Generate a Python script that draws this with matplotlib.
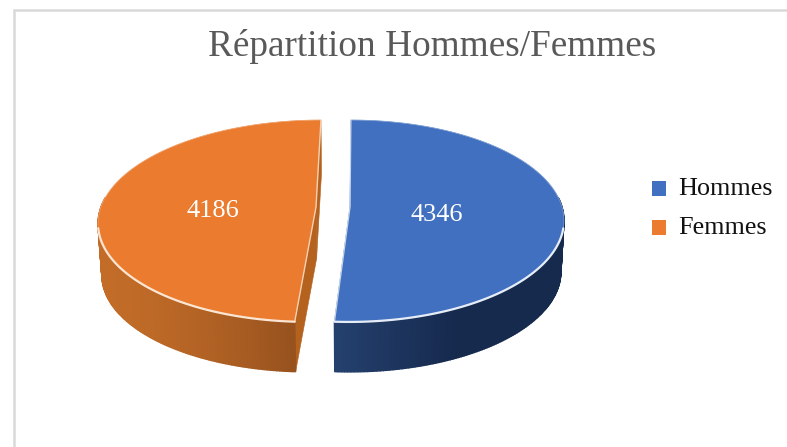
import numpy as np
import matplotlib
matplotlib.use('Agg')
import matplotlib.pyplot as plt
from matplotlib.colors import to_rgb
from matplotlib.patches import Polygon, Rectangle

plt.rcParams['font.family'] = ['Liberation Serif', 'DejaVu Serif']

title = 'Répartition Hommes/Femmes'
labels = ['Hommes', 'Femmes']
values = [4346, 4186]
top_colors = ['#4070bf', '#ea7b2f']
wall_left = ['#25416f', '#c26c28']
wall_right = ['#162a4e', '#8d4c1c']
cut_colors = ['#25416f', '#b5621f']
rim_colors = ['#e6edf7', '#fbe6d3']

# projection of the tilted pie, in picture pixels
x0, y0 = 357, 207
k = 0.1386
radius_y = 99
radius_x = [212, 215]
explode = [-7, -41]
depth = 51.7
shrink = 0.985
label_pos = [(437, 221), (213, 217)]


def project(theta, i, bottom=False):
    # theta is clockwise from the back of the pie
    s = shrink if bottom else 1.0
    dy = depth if bottom else 0.0
    w = 1 + k * np.cos(theta)
    x = x0 + s * (radius_x[i] * np.sin(theta) + explode[i]) / w
    y = y0 + dy - s * radius_y * np.cos(theta) / w
    return x, y


def apex(i, bottom=False):
    s = shrink if bottom else 1.0
    return x0 + s * explode[i], y0 + (depth if bottom else 0.0)


def draw_slice(ax, i, start, end):
    thetas = np.linspace(start, end, 240)
    tx, ty = project(thetas, i)
    bx, by = project(thetas, i, bottom=True)
    left = np.array(to_rgb(wall_left[i]))
    right = np.array(to_rgb(wall_right[i]))

    # cut faces first, the outer wall then sits in front of them
    ax0, ay0 = apex(i)
    ax1, ay1 = apex(i, bottom=True)
    for j in (0, -1):
        face = [(ax0, ay0), (tx[j], ty[j]), (bx[j], by[j]), (ax1, ay1)]
        ax.add_patch(Polygon(face, fc=cut_colors[i], ec=cut_colors[i], lw=0.4))

    # outer wall as thin strips so the shading can run across it
    xmin, xmax = tx.min(), tx.max()
    for j in range(len(thetas) - 1):
        if np.cos(thetas[j]) > 0.1:
            continue
        f = (tx[j] - xmin) / (xmax - xmin)
        if i == 0:
            f = min(f * 1.9, 1)
        else:
            f = f ** 1.6
        c = left + (right - left) * f
        strip = [(tx[j], ty[j]), (tx[j + 1], ty[j + 1]), (bx[j + 1], by[j + 1]), (bx[j], by[j])]
        ax.add_patch(Polygon(strip, fc=c, ec=c, lw=1.0))

    # top face
    top = [(ax0, ay0)] + list(zip(tx, ty))
    ax.add_patch(Polygon(top, fc=top_colors[i], ec=top_colors[i], lw=0.5))

    # pale rim along the near side and the cuts
    near = np.cos(thetas) < -0.2
    ax.plot(tx[near], ty[near], color=rim_colors[i], lw=1.6, solid_capstyle='round')
    ax.plot([tx[0], ax0, tx[-1]], [ty[0], ay0, ty[-1]], color=rim_colors[i], lw=1.0, alpha=0.8)
    ax.plot(tx[~near], ty[~near], color=rim_colors[i], lw=0.5, alpha=0.4)


fig = plt.figure(figsize=(7.87, 4.47), dpi=100)
ax = fig.add_axes([0, 0, 1, 1])
ax.set_xlim(0, 787)
ax.set_ylim(447, 0)
ax.axis('off')

# chart frame, cut off by the picture on the right and at the bottom
ax.plot([14, 14, 787], [447, 10, 10], color='#d9d9d9', lw=1.8, solid_joinstyle='miter')

ax.text(432, 56, title, color='#595959', fontsize=26.8, ha='center', va='baseline')

angles = np.cumsum([0] + values) / sum(values) * 2 * np.pi
for i in [1, 0]:
    draw_slice(ax, i, angles[i], angles[i + 1])
    ax.text(label_pos[i][0], label_pos[i][1], str(values[i]), color='white',
            fontsize=19, ha='center', va='baseline')

legend_y = [195, 234]
for i, label in enumerate(labels):
    ax.add_patch(Rectangle((652, legend_y[i] - 14), 14, 15, fc=top_colors[i], ec='none'))
    ax.text(678.5, legend_y[i], label, color='#111111', fontsize=18.8, ha='left', va='baseline')

fig.savefig('out.png', dpi=100)
